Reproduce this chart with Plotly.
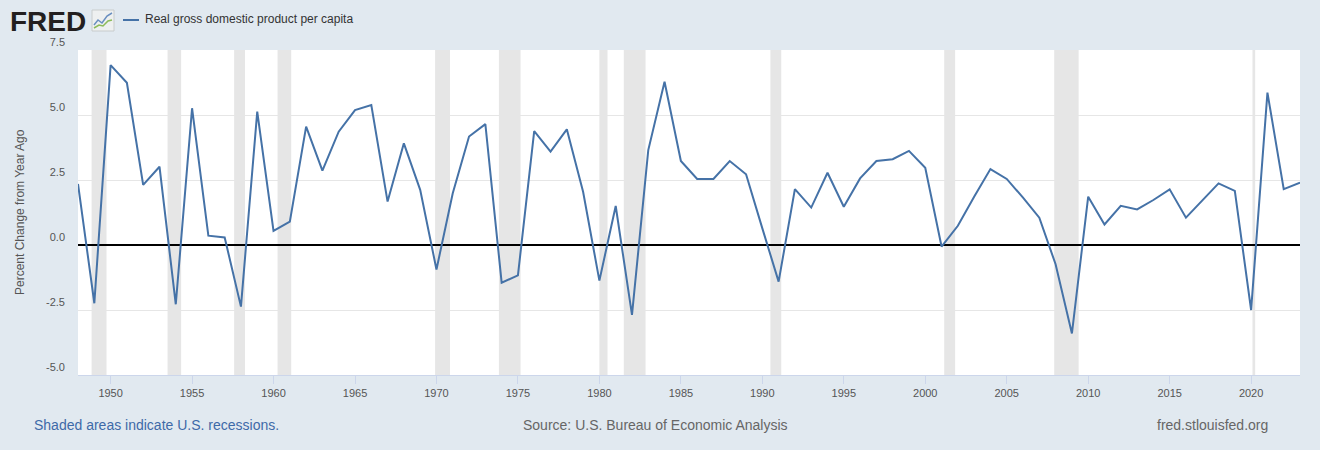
import plotly.graph_objects as go

# annual percent change of real GDP per capita
years = list(range(1948, 2024))
pct_change = [
    2.35, -2.24, 6.92, 6.24, 2.31, 3.01, -2.28, 5.26, 0.36, 0.29,
    -2.37, 5.13, 0.54, 0.90, 4.55, 2.86, 4.36, 5.19, 5.38, 1.67,
    3.91, 2.12, -0.94, 1.99, 4.17, 4.65, -1.45, -1.17, 4.38, 3.59,
    4.45, 2.05, -1.37, 1.50, -2.69, 3.65, 6.28, 3.23, 2.54, 2.54,
    3.23, 2.72, 0.64, -1.41, 2.15, 1.44, 2.78, 1.47, 2.56, 3.23,
    3.30, 3.62, 2.97, -0.06, 0.74, 1.86, 2.92, 2.54, 1.82, 1.05,
    -0.74, -3.40, 1.86, 0.79, 1.51, 1.37, 1.73, 2.14, 1.05, 1.73,
    2.37, 2.08, -2.50, 5.86, 2.15, 2.40,
]

# NBER recession periods (peak, trough)
recession_start = ["1948-11-01", "1953-07-01", "1957-08-01", "1960-04-01",
                   "1969-12-01", "1973-11-01", "1980-01-01", "1981-07-01",
                   "1990-07-01", "2001-03-01", "2007-12-01", "2020-02-01"]
recession_end = ["1949-10-01", "1954-05-01", "1958-04-01", "1961-02-01",
                 "1970-11-01", "1975-03-01", "1980-07-01", "1982-11-01",
                 "1991-03-01", "2001-11-01", "2009-06-01", "2020-04-01"]

y_ticks = [-5.0, -2.5, 0.0, 2.5, 5.0, 7.5]

W, H = 1320, 450
L, R, T, B = 78, 20, 50, 75
PW, PH = W - L - R, H - T - B
FONT = "Liberation Sans, Arial, sans-serif"
BLUE = "#4572a7"
TICK = "#555555"


def px(x):
    return (x - L) / PW


def py(y):
    return (H - B - y) / PH


def pix_path(points):
    return "M" + " L".join(f"{px(x):.5f},{py(y):.5f}" for x, y in points)


dates = [f"{y}-01-01" for y in years]

fig = go.Figure()
fig.add_trace(go.Scatter(x=dates, y=pct_change, mode="lines",
                         name="Real gross domestic product per capita",
                         line=dict(color=BLUE, width=2), showlegend=False,
                         hovertemplate="%{x|%Y}: %{y:.1f}<extra></extra>"))

shapes = []
for s, e in zip(recession_start, recession_end):
    shapes.append(dict(type="rect", xref="x", yref="paper", x0=s, x1=e, y0=0, y1=1,
                       fillcolor="#e6e6e6", line=dict(width=0), layer="between"))

# legend marker
shapes.append(dict(type="line", xref="paper", yref="paper",
                   x0=px(123), x1=px(139), y0=py(20), y1=py(20),
                   line=dict(color=BLUE, width=2)))
# little chart icon beside the logo
shapes.append(dict(type="rect", xref="paper", yref="paper",
                   x0=px(92), x1=px(114), y0=py(31), y1=py(10),
                   fillcolor="#eef0f0", line=dict(color="#c8cccc", width=1)))
shapes.append(dict(type="path", xref="paper", yref="paper",
                   path=pix_path([(94, 25), (98, 20), (102, 23), (107, 16), (112, 13)]),
                   line=dict(color="#6a8fc0", width=1.5)))
shapes.append(dict(type="path", xref="paper", yref="paper",
                   path=pix_path([(94, 28), (99, 25), (103, 26), (108, 21), (112, 20)]),
                   line=dict(color="#8dbb5a", width=1.5)))

annotations = [
    dict(text="<b>FRED</b>", x=px(8), y=py(21), xanchor="left", yanchor="middle",
         font=dict(family=FONT, size=28, color="#231f20")),
    dict(text="Real gross domestic product per capita", x=px(143), y=py(19),
         xanchor="left", yanchor="middle", font=dict(family=FONT, size=12, color="#333333")),
    dict(text="Percent Change from Year Ago", x=px(20), y=py(212), textangle=-90,
         xanchor="center", yanchor="middle", font=dict(family=FONT, size=12, color=TICK)),
    dict(text="Shaded areas indicate U.S. recessions.", x=px(32), y=py(425),
         xanchor="left", yanchor="middle", font=dict(family=FONT, size=14, color="#3e6aa8")),
    dict(text="Source: U.S. Bureau of Economic Analysis", x=px(655), y=py(425),
         xanchor="center", yanchor="middle", font=dict(family=FONT, size=14, color="#666666")),
    dict(text="fred.stlouisfed.org", x=px(1270), y=py(425),
         xanchor="right", yanchor="middle", font=dict(family=FONT, size=14, color="#666666")),
]
for a in annotations:
    a.update(xref="paper", yref="paper", showarrow=False)

fig.update_layout(
    width=W, height=H,
    margin=dict(l=L, r=R, t=T, b=B),
    paper_bgcolor="#e1e9f0", plot_bgcolor="#ffffff",
    font=dict(family=FONT, size=11, color=TICK),
    shapes=shapes, annotations=annotations,
    xaxis=dict(type="date", range=["1948-01-01", "2023-01-01"],
               tick0="1950-01-01", dtick="M60", tickformat="%Y",
               showgrid=False, ticks="outside", ticklen=8, tickcolor="#ccd6eb",
               showline=True, linecolor="#ccd6eb", linewidth=1,
               tickfont=dict(size=11, color=TICK)),
    yaxis=dict(range=[-5, 7.5], tickvals=y_ticks,
               ticktext=[f"{v:.1f}" for v in y_ticks],
               showgrid=True, gridcolor="#e6e6e6", gridwidth=1,
               zeroline=True, zerolinecolor="#000000", zerolinewidth=2,
               ticks="", ticklabelposition="outside top", ticklabelstandoff=12,
               tickfont=dict(size=11, color=TICK)),
)

# drop the browser's default body margin so the figure fills the window
fig.write_html("out.html", config={"displayModeBar": False},
               post_script="document.body.style.margin='0';")
